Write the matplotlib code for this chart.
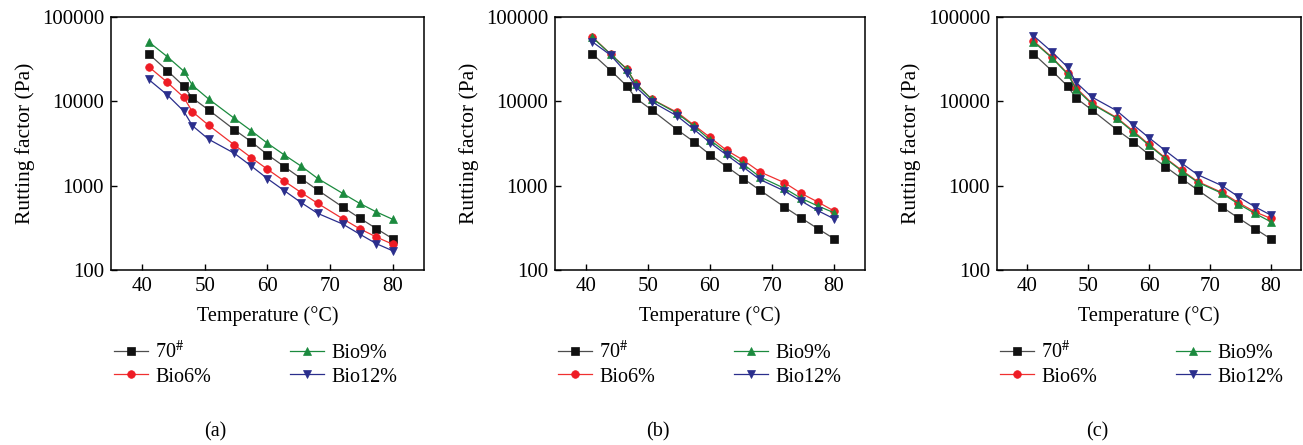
import numpy as np
import matplotlib
matplotlib.use("Agg")
import matplotlib.pyplot as plt

plt.rcParams['font.family'] = ['Liberation Serif', 'DejaVu Serif']
plt.rcParams['mathtext.fontset'] = 'stix'

# temperatures (C)
temp = [41, 44, 46.6, 48, 50.6, 54.7, 57.4, 60, 62.7, 65.4, 68, 72, 74.7, 77.4, 80]

# base binder 70#, same in every panel
base70 = [36700, 23100, 15200, 10950, 7900, 4610, 3320, 2330, 1680, 1210, 889, 559, 414, 309, 235]

# panel (a)
a_bio6 = [25800, 16800, 11200, 7540, 5200, 3040, 2150, 1565, 1130, 826, 618, 406, 309, 246, 202]
a_bio9 = [50900, 33800, 22900, 15500, 10650, 6290, 4480, 3180, 2310, 1700, 1220, 811, 618, 488, 399]
a_bio12 = [18200, 11900, 7680, 5140, 3550, 2420, 1710, 1210, 871, 628, 470, 351, 267, 205, 169]

# panel (b)
b_bio6 = [58400, 36100, 24200, 16400, 10600, 7410, 5240, 3740, 2620, 2000, 1464, 1085, 811, 640, 501]
b_bio9 = [57400, 36100, 24000, 16100, 10600, 7210, 5090, 3480, 2460, 1790, 1276, 930, 708, 574, 478]
b_bio12 = [50900, 35100, 21500, 14900, 9900, 6700, 4660, 3230, 2310, 1650, 1190, 865, 658, 505, 405]

# panel (c)
c_bio6 = [52000, 33500, 21500, 14500, 9500, 6400, 4450, 3080, 2130, 1520, 1120, 830, 630, 490, 410]
c_bio9 = [50900, 32900, 21100, 14000, 9300, 6290, 4330, 3010, 2090, 1490, 1096, 811, 607, 470, 374]
c_bio12 = [60000, 38800, 25500, 16800, 11250, 7740, 5280, 3700, 2600, 1840, 1350, 1000, 740, 563, 449]

labels = [r'70$^{\#}$', 'Bio6%', 'Bio9%', 'Bio12%']
panels = ['(a)', '(b)', '(c)']
yticks = [100, 1000, 10000, 100000]

W, H = 1303, 445
fig = plt.figure(figsize=(W / 100, H / 100), dpi=100)

# axes boxes in pixels: left, right
boxes = [(111, 424), (555, 865), (997, 1301)]
top, bottom = 17, 270

styles = [
    dict(color='#4d4d4d', marker='s', mfc='#111111', mec='#111111', ms=5.3),
    dict(color='#f03030', marker='o', mfc='#ee1c25', mec='#ee1c25', ms=5.5),
    dict(color='#1b8a3e', marker='^', mfc='#1b8a3e', mec='#1b8a3e', ms=6.3),
    dict(color='#2a2e8c', marker='v', mfc='#2a2e8c', mec='#2a2e8c', ms=6.3),
]

data = [
    [base70, a_bio6, a_bio9, a_bio12],
    [base70, b_bio6, b_bio9, b_bio12],
    [base70, c_bio6, c_bio9, c_bio12],
]

for i in range(3):
    l, r = boxes[i]
    ax = fig.add_axes([l / W, 1 - bottom / H, (r - l) / W, (bottom - top) / H])
    for series, st, lab in zip(data[i], styles, labels):
        ax.plot(temp, series, lw=0.9, mew=0.5, label=lab, **st)
    ax.set_yscale('log')
    ax.set_ylim(100, 100000)
    ax.set_xlim(35, 85)
    ax.set_xticks([40, 50, 60, 70, 80])
    ax.set_yticks(yticks)
    ax.set_yticklabels([str(v) for v in yticks])
    ax.minorticks_off()
    ax.tick_params(direction='in', length=4, width=1, labelsize=15, pad=5)
    for s in ax.spines.values():
        s.set_linewidth(1.1)
    ax.set_xlabel('Temperature (°C)', fontsize=14.5, labelpad=7)
    ax.set_ylabel('Rutting factor (Pa)', fontsize=15.5, labelpad=5)
    ax.legend(ncol=2, loc='upper left', frameon=False, fontsize=14.5,
              bbox_to_anchor=(-0.016, -0.25), handlelength=1.7,
              columnspacing=3.9, handletextpad=0.35, labelspacing=0.2,
              borderaxespad=0)
    cx = (l + r) / 2 / W
    fig.text(cx - 0.04, 1 - 432 / H, panels[i], fontsize=14.5, ha='center', va='center')

fig.savefig('out.png', dpi=100)
